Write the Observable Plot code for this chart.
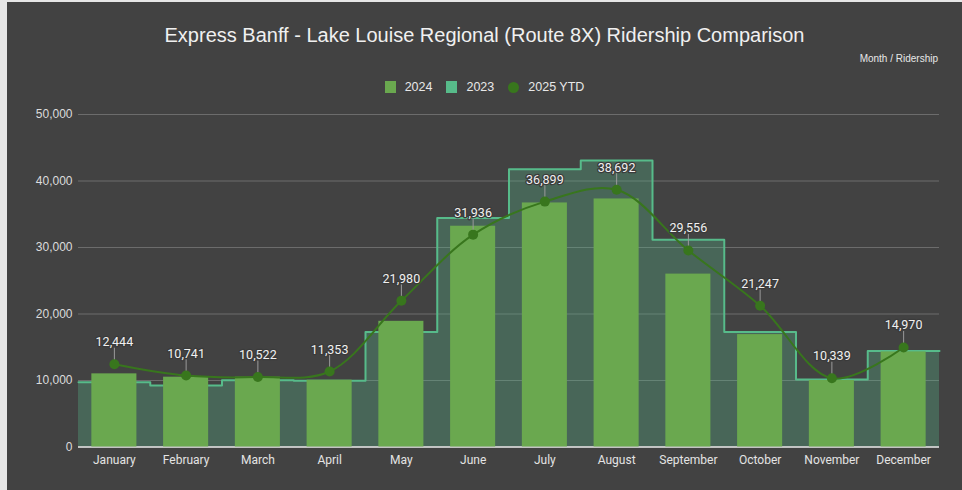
<!DOCTYPE html>
<html><head><meta charset="utf-8">
<script src="https://cdn.jsdelivr.net/npm/d3@7"></script>
<script src="https://cdn.jsdelivr.net/npm/@observablehq/plot@0.6"></script>
<style>
body{margin:0;background:#e6e6e6;width:962px;height:490px;overflow:hidden;font-family:"Liberation Sans",Arial,sans-serif;}
#card{position:absolute;left:7px;top:2px;width:955px;height:488px;background:#424242;}
#title{position:absolute;left:0;top:21px;width:100%;height:24px;line-height:24px;text-align:center;font-size:20px;color:#f0f0f0;}
#sub{position:absolute;right:24px;top:50px;line-height:14px;font-size:10px;color:#e8e8e8;}
#legend{position:absolute;left:0;top:77px;width:100%;height:16px;line-height:16px;text-align:center;font-size:12.5px;color:#e8e8e8;}
#legend span.item{display:inline-block;margin:0 7px;}
#legend i{display:inline-block;width:11px;height:12px;vertical-align:-2px;margin-right:9px;}
#legend i.dot{border-radius:50%;width:11px;height:11px;}
#chart{position:absolute;left:0;top:98px;}
</style></head>
<body>
<div id="card">
  <div id="title">Express Banff - Lake Louise Regional (Route 8X) Ridership Comparison</div>
  <div id="sub">Month / Ridership</div>
  <div id="legend"></div>
  <div id="chart"></div>
</div>
<script>
const months = ["January","February","March","April","May","June","July","August","September","October","November","December"];
const ridership2024 = [11000, 10500, 10500, 10050, 18900, 33200, 36700, 37300, 26000, 16900, 10000, 14300];
const ridership2023 = [9750, 9250, 10050, 9950, 17300, 34450, 41750, 43100, 31150, 17300, 10150, 14450];
const ridership2025 = [12444, 10741, 10522, 11353, 21980, 31936, 36899, 38692, 29556, 21247, 10339, 14970];
const yTicks = [0, 10000, 20000, 30000, 40000, 50000];
const seriesNames = ["2024", "2023", "2025 YTD"];
const seriesColors = ["#6aa84f", "#57bb8a", "#38761d"];

// legend
const lg = document.getElementById("legend");
seriesNames.forEach((n, k) => {
  const s = document.createElement("span"); s.className = "item";
  const sw = document.createElement("i"); sw.style.background = seriesColors[k];
  if (k === 2) sw.className = "dot";
  s.appendChild(sw); s.appendChild(document.createTextNode(n));
  lg.appendChild(s);
});

const idx = months.map((m, i) => i);
const bars = idx.map(i => ({i, v: ridership2024[i]}));
const pts = idx.map(i => ({i, v: ridership2025[i]}));
const steps = idx.flatMap(i => [{x: i - 0.5, v: ridership2023[i]}, {x: i + 0.5, v: ridership2023[i]}]);
const halfBar = 0.314;

const fmt = d3.format(",");
const chart = Plot.plot({
  width: 955, height: 388,
  marginLeft: 71, marginRight: 23, marginTop: 14, marginBottom: 41.5,
  style: {background: "transparent", color: "#dcdcdc", fontSize: "12px", fontFamily: "'Liberation Sans', Arial, sans-serif"},
  x: {type: "linear", domain: [-0.5, 11.5], axis: null},
  y: {domain: [0, 50000], axis: null},
  marks: [
    Plot.gridY(yTicks, {stroke: "#6c6c6c", strokeOpacity: 1}),
    Plot.axisY(yTicks, {tickSize: 0, tickPadding: 6, tickFormat: fmt, label: null, fill: "#dcdcdc", fontSize: 12}),
    Plot.axisX(idx, {tickSize: 0, tickPadding: 8, tickFormat: i => months[i], label: null, fill: "#e4e4e4", fontSize: 12, fontFamily: "Roboto"}),
    Plot.areaY(steps, {x: "x", y1: 0, y2: "v", fill: "#57bb8a", fillOpacity: 0.3}),
    Plot.lineY(steps, {x: "x", y: "v", stroke: "#57bb8a", strokeWidth: 2}),
    Plot.ruleY([0], {stroke: "#e6e6e6", strokeWidth: 1.5}),
    Plot.rectY(bars, {x1: d => d.i - halfBar, x2: d => d.i + halfBar, y1: 0, y2: "v", fill: "#6aa84f"}),
    Plot.ruleX(pts, {x: "i", y1: "v", y2: "v", insetTop: -16, stroke: "#9a9a9a", strokeWidth: 1}),
    Plot.lineY(pts, {x: "i", y: "v", stroke: "#38761d", strokeWidth: 2, curve: "catmull-rom"}),
    Plot.dot(pts, {x: "i", y: "v", r: 5, fill: "#38761d", stroke: "none"}),
    Plot.text(pts, {x: "i", y: "v", text: d => fmt(d.v), dy: -22, fill: "#f0f0f0", stroke: "#3a3a3a", strokeWidth: 2.5, fontSize: 12.5, fontFamily: "Roboto"})
  ]
});
document.getElementById("chart").appendChild(chart);
</script>
</body></html>
